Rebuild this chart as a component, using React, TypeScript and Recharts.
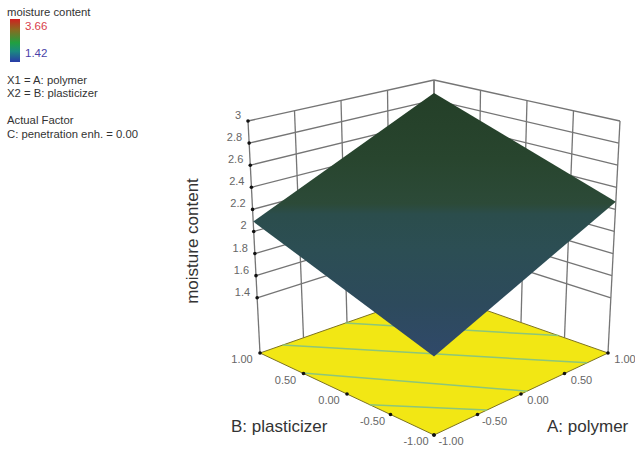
import React from 'react';
import { ComposedChart, Area, Line, Scatter, XAxis, YAxis } from 'recharts';

const W = 635;
const H = 449;

const factorTicks = [-1, -0.5, 0, 0.5, 1];
const factorLabels = ['-1.00', '-0.50', '0.00', '0.50', '1.00'];
const responseTicks = [3, 2.8, 2.6, 2.4, 2.2, 2, 1.8, 1.6, 1.4];
const responseLabels = ['3', '2.8', '2.6', '2.4', '2.2', '2', '1.8', '1.6', '1.4'];

// response at the four corners of the factor square
const surfaceLeft = 2.09; // A -1, B 1
const surfaceBack = 2.87; // A 1, B 1
const surfaceRight = 2.27; // A 1, B -1
const surfaceFront = 1.55; // A -1, B -1

// contour lines on the floor, [A, B] at each end
const contours = [
  [[-0.02, 1], [1, -0.43]],
  [[-0.74, 1], [0.76, -1]],
  [[-1, 0.51], [0.07, -1]],
  [[-1, -0.26], [-0.39, -1]],
];

const legendNotes = [
  { text: 'moisture content', top: 12 },
  { text: 'X1 = A: polymer', top: 80 },
  { text: 'X2 = B: plasticizer', top: 93 },
  { text: 'Actual Factor', top: 120 },
  { text: 'C: penetration enh. = 0.00', top: 134 },
];

// the picture's box corners, used to place the 3D frame on the page axes
const floorBox = { front: [434, 435], right: [608, 353], left: [260, 353], back: [434, 292] };
const topBox = { front: [434, 181], right: [620, 121], left: [248, 121], back: [434, 80] };
const zFloor = 0.9;
const zTop = 3;

const bilinear = (box: typeof floorBox, a: number, b: number) => {
  const u = (a + 1) / 2;
  const v = (b + 1) / 2;
  return [0, 1].map(
    (i) =>
      box.front[i] * (1 - u) * (1 - v) +
      box.right[i] * u * (1 - v) +
      box.left[i] * (1 - u) * v +
      box.back[i] * u * v
  );
};

const project = (a: number, b: number, z: number) => {
  const lo = bilinear(floorBox, a, b);
  const hi = bilinear(topBox, a, b);
  const t = (z - zFloor) / (zTop - zFloor);
  return { x: lo[0] + (hi[0] - lo[0]) * t, y: lo[1] + (hi[1] - lo[1]) * t };
};

const seg = (p: { x: number; y: number }, q: { x: number; y: number }) => [p, q];

// wall grid
const wallLines = [
  ...responseTicks.flatMap((z) => [
    seg(project(-1, 1, z), project(1, 1, z)),
    seg(project(1, 1, z), project(1, -1, z)),
  ]),
  ...factorTicks.flatMap((t) => [
    seg(project(t, 1, zFloor), project(t, 1, zTop)),
    seg(project(1, t, zFloor), project(1, t, zTop)),
  ]),
];

const floorEdges = [
  seg(project(-1, -1, zFloor), project(1, -1, zFloor)),
  seg(project(1, -1, zFloor), project(1, 1, zFloor)),
  seg(project(1, 1, zFloor), project(-1, 1, zFloor)),
  seg(project(-1, 1, zFloor), project(-1, -1, zFloor)),
];

const contourLines = contours.map(([p, q]) =>
  seg(project(p[0], p[1], zFloor), project(q[0], q[1], zFloor))
);

const diamond = (l: any, t: any, b: any, r: any) => [
  { x: l.x, range: [l.y, l.y] },
  { x: t.x, range: [t.y, b.y] },
  { x: r.x, range: [r.y, r.y] },
];

const floorData = diamond(
  project(-1, 1, zFloor),
  project(1, 1, zFloor),
  project(-1, -1, zFloor),
  project(1, -1, zFloor)
);
const surfaceData = diamond(
  project(-1, 1, surfaceLeft),
  project(1, 1, surfaceBack),
  project(-1, -1, surfaceFront),
  project(1, -1, surfaceRight)
);

const tickPoints = [
  ...responseTicks.map((z, i) => ({
    ...project(-1, 1, z),
    label: responseLabels[i],
    anchor: 'end',
    dx: -7,
    dy: -2,
  })),
  ...factorTicks.map((t, i) => ({
    ...project(-1, t, zFloor),
    label: factorLabels[i],
    anchor: 'middle',
    dx: -18,
    dy: 10,
  })),
  ...factorTicks.map((t, i) => ({
    ...project(t, -1, zFloor),
    label: factorLabels[i],
    anchor: 'middle',
    dx: 17,
    dy: 10,
  })),
];

const TickMark = (props: any) => {
  const { cx, cy, payload } = props;
  return (
    <g>
      <circle cx={cx} cy={cy} r={1.8} fill="#111" />
      <text
        x={cx + payload.dx}
        y={cy + payload.dy}
        textAnchor={payload.anchor}
        fontSize={11}
        fontFamily="Liberation Sans"
        fill="#666"
      >
        {payload.label}
      </text>
    </g>
  );
};

const font = 'Liberation Sans';

export default function App() {
  return (
    <div style={{ position: 'absolute', left: 0, top: 0, width: W, height: H, background: '#fff', fontFamily: font }}>
      <ComposedChart width={W} height={H} margin={{ top: 0, right: 0, bottom: 0, left: 0 }}>
        <defs>
          <linearGradient id="surfaceFill" x1="0" y1="0" x2="0" y2="1">
            <stop offset="0%" stopColor="#243f28" />
            <stop offset="25%" stopColor="#28452e" />
            <stop offset="42%" stopColor="#2c4a38" />
            <stop offset="46%" stopColor="#2b4d4c" />
            <stop offset="60%" stopColor="#2c4e54" />
            <stop offset="80%" stopColor="#2d4a5c" />
            <stop offset="100%" stopColor="#30496a" />
          </linearGradient>
        </defs>
        <XAxis type="number" dataKey="x" domain={[0, W]} hide />
        <YAxis type="number" dataKey="y" domain={[0, H]} reversed hide />
        {wallLines.map((d, i) => (
          <Line key={i} zIndex={110} data={d} dataKey="y" stroke="#757575" strokeWidth={1.3} dot={false} activeDot={false} isAnimationActive={false} />
        ))}
        <Area
          zIndex={120}
          data={floorData}
          dataKey="range"
          type="linear"
          fill="#f2e714"
          fillOpacity={1}
          stroke="none"
          dot={false}
          activeDot={false}
          isAnimationActive={false}
        />
        {floorEdges.map((d, i) => (
          <Line key={i} zIndex={130} data={d} dataKey="y" stroke="#7d7320" strokeWidth={1} dot={false} activeDot={false} isAnimationActive={false} />
        ))}
        {contourLines.map((d, i) => (
          <Line key={i} zIndex={140} data={d} dataKey="y" stroke="#8cc67a" strokeWidth={1.5} dot={false} activeDot={false} isAnimationActive={false} />
        ))}
        <Area
          zIndex={150}
          data={surfaceData}
          dataKey="range"
          type="linear"
          fill="url(#surfaceFill)"
          fillOpacity={1}
          stroke="none"
          dot={false}
          activeDot={false}
          isAnimationActive={false}
        />
        <Scatter zIndex={160} data={tickPoints} shape={TickMark} isAnimationActive={false} />
      </ComposedChart>

      {legendNotes.map((n) => (
        <div key={n.text} style={{ position: 'absolute', left: 7, top: n.top - 7, fontSize: 11.3, lineHeight: '14px', color: '#333', whiteSpace: 'nowrap' }}>
          {n.text}
        </div>
      ))}
      <div style={{ position: 'absolute', left: 10, top: 19, width: 10, height: 43, background: 'linear-gradient(#d02020, #8a6a20 25%, #20a040 55%, #1a8a80 75%, #2a3aa8)' }} />
      <div style={{ position: 'absolute', left: 25, top: 19, fontSize: 11.5, lineHeight: '14px', color: '#d8404a' }}>3.66</div>
      <div style={{ position: 'absolute', left: 25, top: 46, fontSize: 11.5, lineHeight: '14px', color: '#4a3fa8' }}>1.42</div>

      <div style={{ position: 'absolute', left: 193, top: 241, fontSize: 17, lineHeight: '20px', color: '#333', whiteSpace: 'nowrap', transform: 'translate(-50%, -50%) rotate(-90deg)' }}>
        moisture content
      </div>
      <div style={{ position: 'absolute', left: 231, top: 417, fontSize: 17, lineHeight: '20px', color: '#333', whiteSpace: 'nowrap' }}>B: plasticizer</div>
      <div style={{ position: 'absolute', left: 547, top: 417, fontSize: 17, lineHeight: '20px', color: '#333', whiteSpace: 'nowrap' }}>A: polymer</div>
    </div>
  );
}
